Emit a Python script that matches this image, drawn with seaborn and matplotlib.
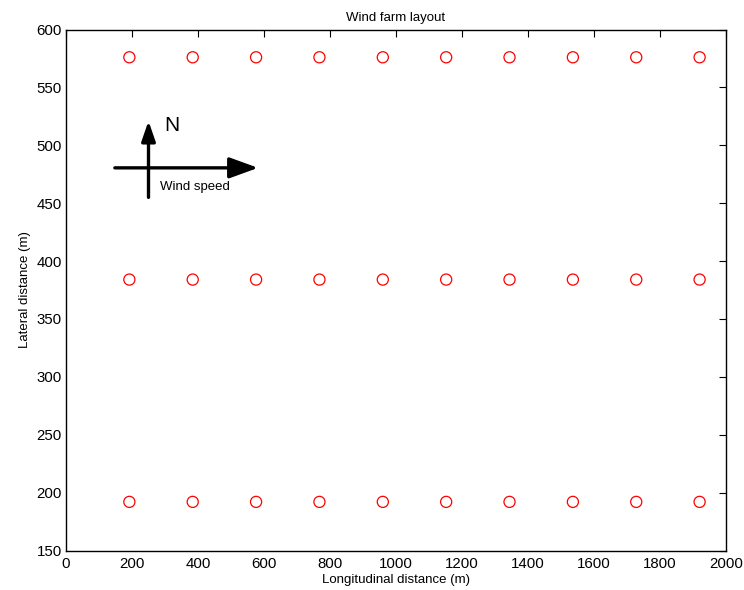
import matplotlib
matplotlib.use("Agg")
import matplotlib.pyplot as plt
import seaborn as sns
import pandas as pd

x_positions = [192, 384, 576, 768, 960, 1152, 1344, 1536, 1728, 1920]
y_positions = [192, 384, 576]
x_ticks = [0, 200, 400, 600, 800, 1000, 1200, 1400, 1600, 1800, 2000]
y_ticks = [150, 200, 250, 300, 350, 400, 450, 500, 550, 600]

rows = [(xv, yv) for yv in y_positions for xv in x_positions]
df = pd.DataFrame(rows, columns=["x", "y"])

sns.set_style("white")
plt.rcParams['font.family'] = ['Liberation Sans', 'DejaVu Sans']
plt.rcParams['text.color'] = 'black'
plt.rcParams['axes.labelcolor'] = 'black'

fig = plt.figure(figsize=(7.44, 5.90), dpi=100)
ax = fig.add_axes([66/744, 1-550.5/590, 660/744, 521/590])

sns.scatterplot(data=df, x="x", y="y", ax=ax, marker="o", s=64,
                facecolors="none", edgecolor="red", linewidth=0.9, legend=False)

ax.set_xlim(0, 2000)
ax.set_ylim(150, 600)
ax.set_xticks(x_ticks)
ax.set_yticks(y_ticks)
ax.tick_params(direction="in", length=5, width=0.8, labelsize=10.8, colors="black",
               top=True, right=True)
ax.tick_params(axis="x", pad=4.5)
ax.tick_params(axis="y", pad=3)
for s in ax.spines.values():
    s.set_color("black")
    s.set_linewidth(1.0)
ax.set_xlabel("Longitudinal distance (m)", fontsize=9.5, labelpad=2.5, color="black")
ax.set_ylabel("Lateral distance (m)", fontsize=9.5, labelpad=4, color="black")
ax.set_title("Wind farm layout", fontsize=9.5, pad=6, color="black")

ap_v = dict(arrowstyle="-|>,head_length=1.1,head_width=0.38", color="black", lw=2.4,
            shrinkA=0, shrinkB=0, mutation_scale=11)
ap_h = dict(arrowstyle="-|>,head_length=1.1,head_width=0.4", color="black", lw=2.4,
            shrinkA=0, shrinkB=0, mutation_scale=16)
ax.annotate("", xy=(250, 521), xytext=(250, 455), arrowprops=ap_v)
ax.annotate("", xy=(582, 480.5), xytext=(148, 480.5), arrowprops=ap_h)
ax.text(297, 517, "N", fontsize=15, va="center", ha="left")
ax.text(285, 464, "Wind speed", fontsize=9.5, va="center", ha="left")

fig.savefig("out.png", dpi=100)
